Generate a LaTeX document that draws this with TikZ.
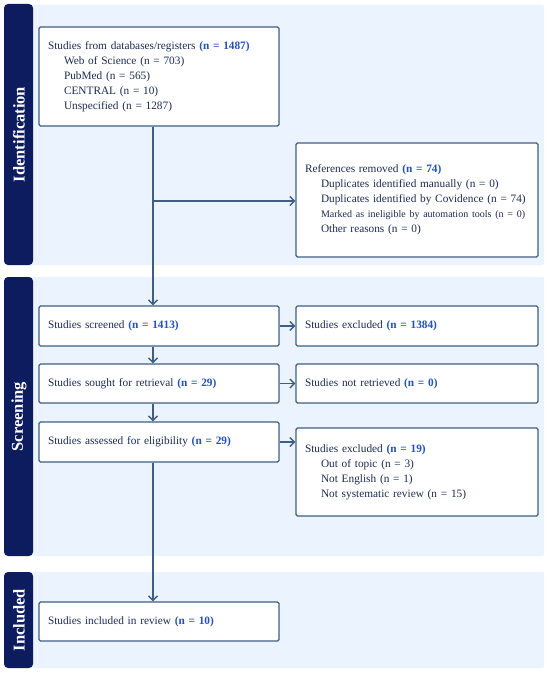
\documentclass[tikz,border=0pt]{standalone}
\usepackage{fontspec}
\setmainfont{Liberation Serif}
\usetikzlibrary{arrows.meta}
\definecolor{barblue}{HTML}{0C1C5E}
\definecolor{bandbg}{HTML}{EAF3FE}
\definecolor{edge}{HTML}{3F5E82}
\definecolor{txt}{HTML}{1C2B50}
\definecolor{nblue}{HTML}{2152B8}
\newcommand{\nval}[1]{\textcolor{nblue}{\textbf{#1}}}
\newcommand{\ind}{\hspace*{16pt}}
\tikzset{
  band/.style={fill=bandbg, draw=none, rounded corners=1.5pt},
  bar/.style={fill=barblue, draw=none, rounded corners=4pt},
  barlabel/.style={text=white, font=\fontsize{16.5}{18}\selectfont\bfseries, rotate=90, anchor=center},
  box/.style={draw=edge, line width=1.2pt, fill=white, rounded corners=1.5pt, inner xsep=9pt, inner ysep=0pt,
    align=left, text=txt, font=\fontsize{11.3}{15}\selectfont},
  lbox/.style={box, text width=222pt, minimum width=240pt},
  rbox/.style={box, text width=224pt, minimum width=242pt},
  arr/.style={draw=edge, line width=1.4pt, -{Straight Barb[length=4.5pt,width=9pt,line width=1.4pt]}},
  ln/.style={draw=edge, line width=1.4pt}
}
\begin{document}
\begin{tikzpicture}[x=1pt,y=-1pt]
\useasboundingbox (0,0) rectangle (550,674);
% bands
\fill[band] (25,5) rectangle (544,265);
\fill[band] (25,277) rectangle (544,556);
\fill[band] (25,572) rectangle (544,668);
% bars
\path[bar] (4,4) rectangle (33,265);
\path[bar] (4,277) rectangle (33,556);
\path[bar] (4,572) rectangle (33,668);
\node[barlabel] (lid) at (19,134.5) {Identification};
\node[barlabel] (lsc) at (19,416.5) {Screening};
\node[barlabel] (lin) at (19,620) {Included};
% boxes
\node[lbox, minimum height=99pt] (src) at (159,76.5) {Studies from databases/registers \nval{(n = 1487)}\\
\ind Web of Science (n = 703)\\
\ind PubMed (n = 565)\\
\ind CENTRAL (n = 10)\\
\ind Unspecified (n = 1287)};
\node[rbox, minimum height=114pt] (rem) at (417,200) {References removed \nval{(n = 74)}\\
\ind Duplicates identified manually (n = 0)\\
\ind Duplicates identified by Covidence (n = 74)\\
\ind {\fontsize{10}{15}\selectfont Marked as ineligible by automation tools (n = 0)}\\
\ind Other reasons (n = 0)};
\node[lbox, minimum height=40pt] (scr) at (159,326) {Studies screened \nval{(n = 1413)}};
\node[rbox, minimum height=40pt] (exc) at (417,326) {Studies excluded \nval{(n = 1384)}};
\node[lbox, minimum height=39pt] (sou) at (159,383.5) {Studies sought for retrieval \nval{(n = 29)}};
\node[rbox, minimum height=39pt] (ret) at (417,383.5) {Studies not retrieved \nval{(n = 0)}};
\node[lbox, minimum height=40pt] (ass) at (159,442) {Studies assessed for eligibility \nval{(n = 29)}};
\node[rbox, minimum height=88pt] (ex19) at (417,472) {Studies excluded \nval{(n = 19)}\\
\ind Out of topic (n = 3)\\
\ind Not English (n = 1)\\
\ind Not systematic review (n = 15)};
\node[lbox, minimum height=39pt] (inc) at (159,621.5) {Studies included in review \nval{(n = 10)}};
% connectors
\coordinate (spine) at (153,0);
\coordinate (br) at (153,201);
\draw[arr] (src.south -| spine) -- (scr.north -| spine);
\draw[arr] (br) -- (br -| rem.west);
\draw[arr] (scr.south -| spine) -- (sou.north -| spine);
\draw[arr] (sou.south -| spine) -- (ass.north -| spine);
\draw[arr] (ass.south -| spine) -- (inc.north -| spine);
\draw[arr] (scr.east) -- (exc.west);
\draw[arr] (sou.east) -- (ret.west);
\draw[arr] (ass.east) -- (ass.east -| ex19.west);
\end{tikzpicture}
\end{document}
